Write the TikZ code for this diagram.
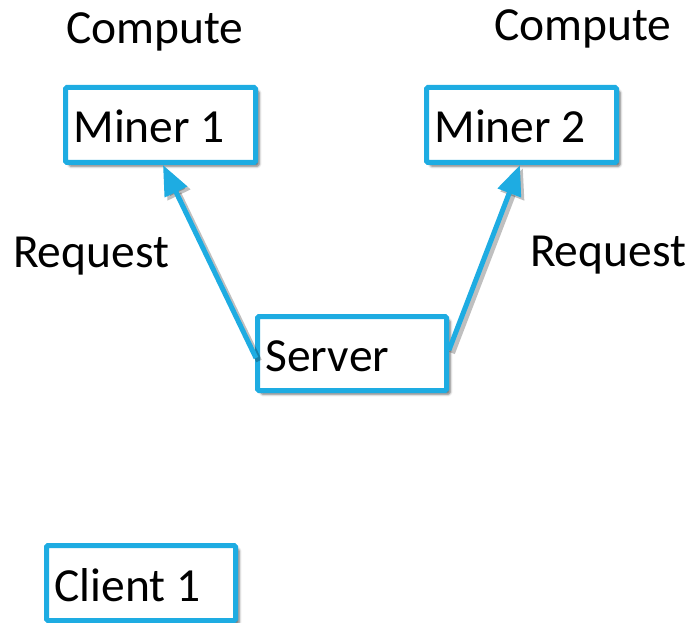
\documentclass[tikz,border=0pt]{standalone}
\usepackage{fontspec}
\setmainfont{Carlito}
\usetikzlibrary{arrows.meta,shadows.blur}

\definecolor{edgeblue}{RGB}{30,172,226}

\tikzset{
  boxnode/.style={
    draw=edgeblue, line width=5pt, fill=white, rounded corners=1.5pt,
    outer sep=0pt,
    minimum width=190pt, minimum height=75pt,
    text width=174pt, align=flush left, inner xsep=8pt, inner ysep=0pt,
    text height=36pt, text depth=0pt,
    font=\fontsize{47.5}{52}\selectfont,
    blur shadow={shadow xshift=3.5pt, shadow yshift=-3.5pt,
                 shadow blur radius=2.5pt, shadow opacity=60}
  },
  labeltext/.style={inner sep=0pt, outer sep=0pt, anchor=base west,
    font=\fontsize{47.5}{52}\selectfont},
  reqarrow/.style={draw=edgeblue, line width=5pt,
    -{Triangle[length=30pt,width=24pt]}},
  reqshadow/.style={draw=black, line width=6pt, opacity=0.25,
    -{Triangle[length=30pt,width=24pt]}}
}

\begin{document}
\begin{tikzpicture}[x=1pt,y=-1pt]
  \useasboundingbox (0,0) rectangle (694,623);

  % machines
  \node[boxnode, anchor=north west] (m1) at (65.5,87.5) {Miner 1};
  \node[boxnode, anchor=north west] (m2) at (426.5,87.5) {Miner 2};
  \node[boxnode, anchor=north west, minimum width=189pt, text width=173pt,
        minimum height=74pt] (srv) at (257.5,316.5) {Server};
  \node[boxnode, anchor=north west, minimum width=189pt, text width=173pt]
       (c1) at (46.5,545.5) {Client 1};

  % captions
  \node[labeltext] (cmp1) at (66,44) {Compute};
  \node[labeltext] (cmp2) at (494,41) {Compute};
  \node[labeltext] (req1) at (13,267) {Request};
  \node[labeltext] (req2) at (530,266) {Request};

  % request arrows, with a soft offset shadow underneath
  \coordinate (t1) at ([xshift=-1.5pt,yshift=-4.5pt]srv.west);
  \coordinate (h1) at ([xshift=2.5pt,yshift=-2.5pt]m1.south);
  \coordinate (t2) at ([xshift=2.5pt,yshift=3.5pt]srv.east);
  \coordinate (h2) at ([xshift=-1.5pt,yshift=-2.5pt]m2.south);
  \begin{scope}[transform canvas={shift={(3pt,-3pt)}}]
    \draw[reqshadow] (t1) -- (h1);
    \draw[reqshadow] (t2) -- (h2);
  \end{scope}
  \draw[reqarrow] (t1) -- (h1);
  \draw[reqarrow] (t2) -- (h2);
\end{tikzpicture}
\end{document}
